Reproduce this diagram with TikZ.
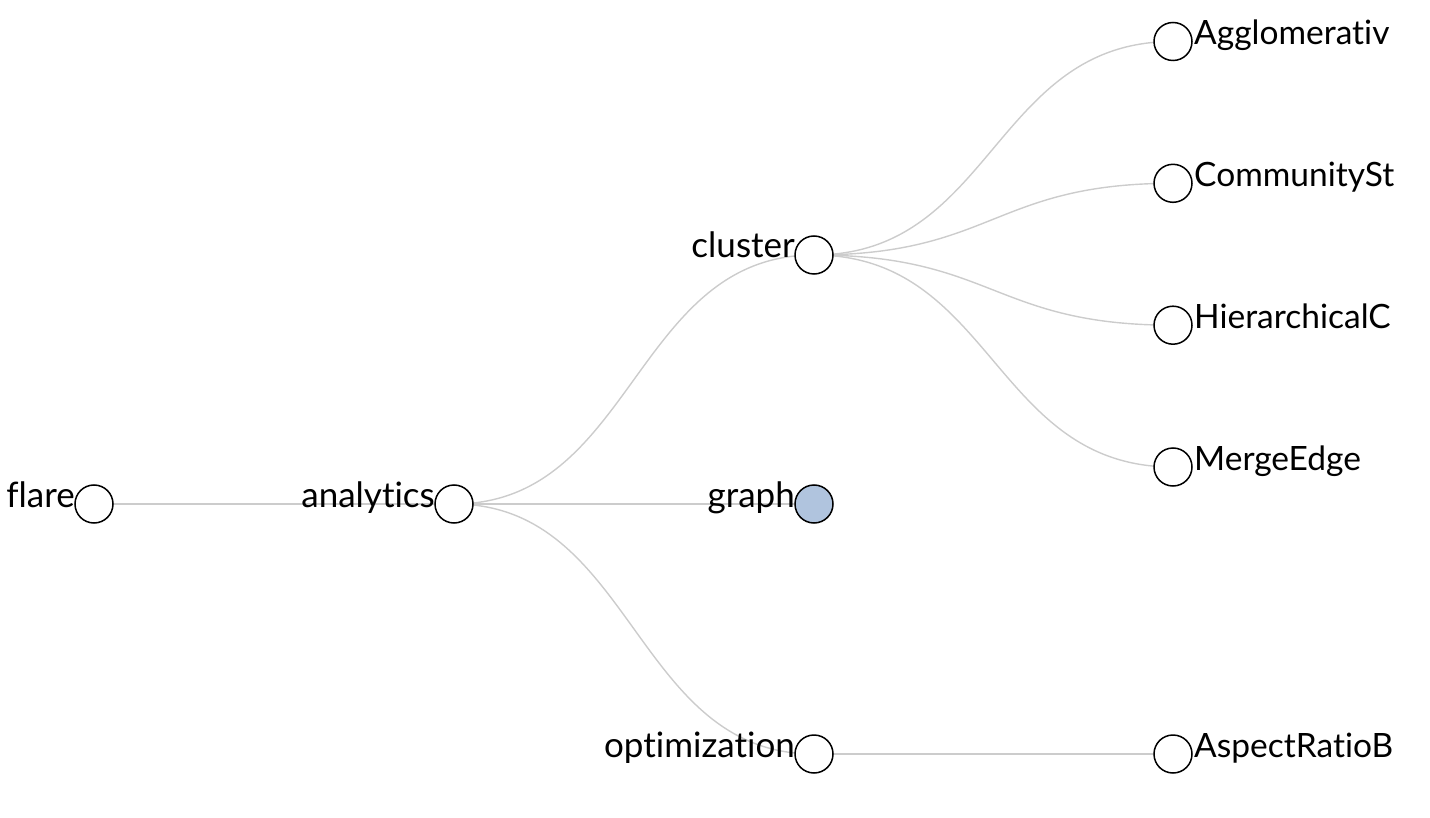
\documentclass[tikz,border=0pt]{standalone}
\usepackage{fontspec}
\setmainfont[Ligatures=NoCommon]{Lato}
\usetikzlibrary{calc}
\pgfdeclarelayer{bg}
\pgfsetlayers{bg,main}
\tikzset{
  tnode/.style={circle, draw=black, line width=1.5pt, fill=white, minimum size=38pt, inner sep=0pt},
  sel/.style={fill=steelblue},
  link/.style={draw=linkgray, line width=1.4pt},
  lbl/.style={inner sep=0pt, font=\fontsize{35}{35}\selectfont, text=black},
  leaflbl/.style={inner sep=0pt, font=\fontsize{33.5}{33.5}\selectfont, text=black},
}
\definecolor{linkgray}{HTML}{CCCCCC}
\definecolor{steelblue}{HTML}{B0C4DE}
\newcommand{\hlink}[2]{%
  \begin{pgfonlayer}{bg}
  \draw[link] let \p1=(#1.center), \p2=(#2.center) in (#1.center) .. controls ({(\x1+\x2)/2},\y1) and ({(\x1+\x2)/2},\y2) .. (#2.center);
  \end{pgfonlayer}}
\begin{document}
\begin{tikzpicture}[x=1pt,y=-1pt]
\useasboundingbox (0,0) rectangle (1430,818);
\node[tnode] (flare) at (94,504) {};
\node[tnode] (analytics) at (454,504) {};
\node[tnode] (cluster) at (814,255) {};
\node[tnode,sel] (graph) at (814,504) {};
\node[tnode] (optimization) at (814,754) {};
\node[tnode] (agg) at (1173,41.5) {};
\node[tnode] (comm) at (1173,183.3) {};
\node[tnode] (hier) at (1173,325.2) {};
\node[tnode] (merge) at (1173,467) {};
\node[tnode] (aspect) at (1173,754) {};
\hlink{flare}{analytics}
\hlink{analytics}{cluster}
\hlink{analytics}{graph}
\hlink{analytics}{optimization}
\hlink{cluster}{agg}
\hlink{cluster}{comm}
\hlink{cluster}{hier}
\hlink{cluster}{merge}
\hlink{optimization}{aspect}
\node[lbl, anchor=base east] (lflare) at ($(flare.center)+(-19,3)$) {flare};
\node[lbl, anchor=base east] (lanalytics) at ($(analytics.center)+(-19,3)$) {analytics};
\node[lbl, anchor=base east] (lcluster) at ($(cluster.center)+(-19,3)$) {cluster};
\node[lbl, anchor=base east] (lgraph) at ($(graph.center)+(-19,3)$) {graph};
\node[lbl, anchor=base east] (lopt) at ($(optimization.center)+(-19,3)$) {optimization};
\begin{scope}
\clip (0,0) rectangle (1393,818);
\node[leaflbl, anchor=base west] (lagg) at ($(agg.center)+(21,3)$) {Agglomerativ};
\node[leaflbl, anchor=base west] (lcomm) at ($(comm.center)+(21,3)$) {CommunitySt};
\node[leaflbl, anchor=base west] (lhier) at ($(hier.center)+(21,3)$) {HierarchicalC};
\node[leaflbl, anchor=base west] (lmerge) at ($(merge.center)+(21,3)$) {MergeEdge};
\node[leaflbl, anchor=base west] (laspect) at ($(aspect.center)+(21,3)$) {AspectRatioB};
\end{scope}
\end{tikzpicture}
\end{document}
